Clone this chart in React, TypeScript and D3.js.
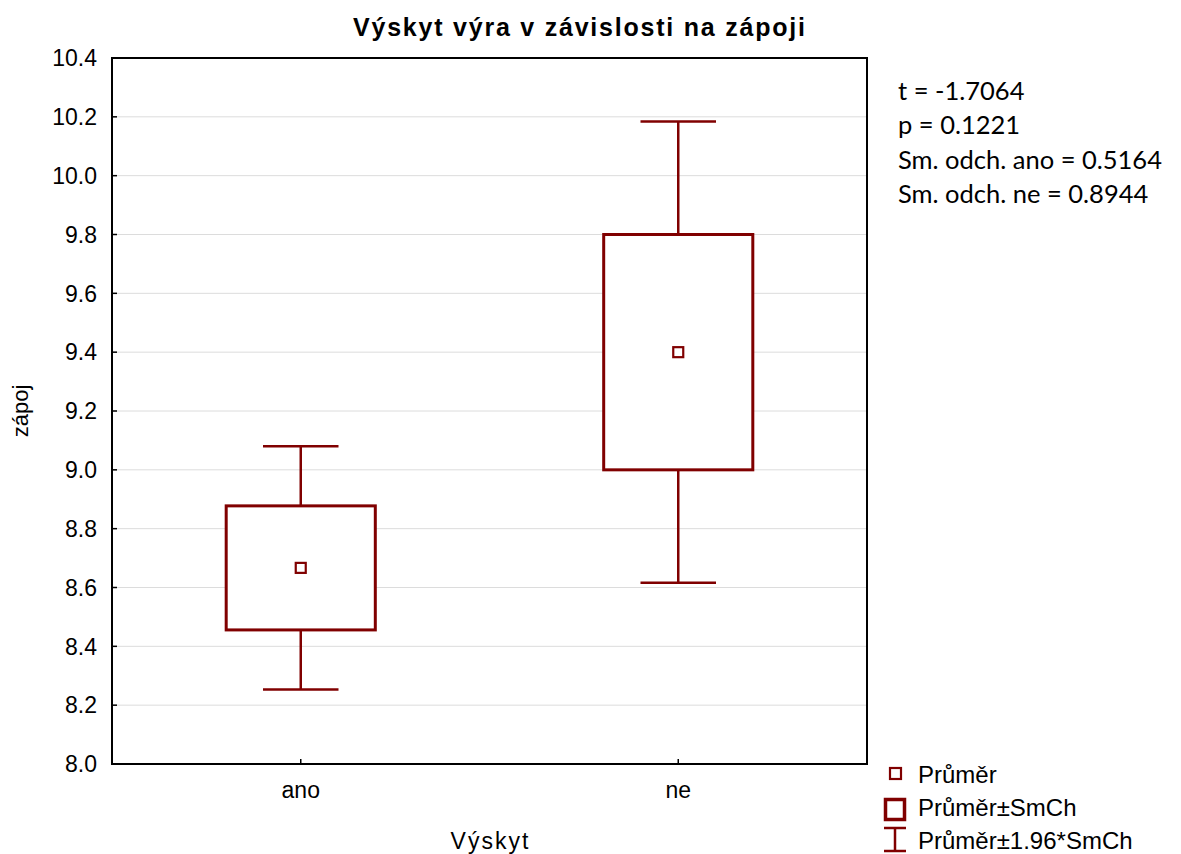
import React from "react";
import * as d3 from "d3";

const categories = ["ano", "ne"];
const means = [8.6667, 9.4];
const boxLow = [8.4558, 9.0];
const boxHigh = [8.8775, 9.8];
const whiskerLow = [8.2535, 8.616];
const whiskerHigh = [9.0799, 10.184];
const yTicks = [8.0, 8.2, 8.4, 8.6, 8.8, 9.0, 9.2, 9.4, 9.6, 9.8, 10.0, 10.2, 10.4];
const statsLines = ["t = -1.7064", "p = 0.1221", "Sm. odch. ano = 0.5164", "Sm. odch. ne = 0.8944"];
const legendItems = ["Průměr", "Průměr±SmCh", "Průměr±1.96*SmCh"];

const W = 1181;
const H = 854;
const L = 112, R = 867, T = 58, B = 764;
const RED = "#800000";
const ARIAL = "'Liberation Sans', Arial, sans-serif";

export default function App() {
  const x = d3.scaleBand<string>().domain(categories).range([L, R]).padding(0);
  const y = d3.scaleLinear().domain([8.0, 10.4]).range([B, T]);
  const bw = x.bandwidth();
  const boxW = bw * 0.395;
  const capW = bw * 0.2;

  return (
    <svg width={W} height={H} style={{ position: "absolute", left: 0, top: 0, background: "#fff" }}>
      <rect x={0} y={0} width={W} height={H} fill="#fff" />
      {/* grid */}
      {yTicks.slice(1, -1).map((t) => (
        <line key={"g" + t} x1={L} x2={R} y1={y(t)} y2={y(t)} stroke="#dcdcdc" strokeWidth={1} />
      ))}
      {/* boxes */}
      {categories.map((c, i) => {
        const cx = (x(c) as number) + bw / 2;
        return (
          <g key={c}>
            <line x1={cx} x2={cx} y1={y(whiskerHigh[i])} y2={y(boxHigh[i])} stroke={RED} strokeWidth={2.5} />
            <line x1={cx} x2={cx} y1={y(boxLow[i])} y2={y(whiskerLow[i])} stroke={RED} strokeWidth={2.5} />
            <line x1={cx - capW / 2} x2={cx + capW / 2} y1={y(whiskerHigh[i])} y2={y(whiskerHigh[i])} stroke={RED} strokeWidth={2.5} />
            <line x1={cx - capW / 2} x2={cx + capW / 2} y1={y(whiskerLow[i])} y2={y(whiskerLow[i])} stroke={RED} strokeWidth={2.5} />
            <rect x={cx - boxW / 2} y={y(boxHigh[i])} width={boxW} height={y(boxLow[i]) - y(boxHigh[i])} fill="#fff" stroke={RED} strokeWidth={3} />
            <rect x={cx - 5} y={y(means[i]) - 5} width={10} height={10} fill="#fff" stroke={RED} strokeWidth={2.2} />
          </g>
        );
      })}
      {/* frame */}
      <rect x={L} y={T} width={R - L} height={B - T} fill="none" stroke="#000" strokeWidth={2} />
      {/* y ticks */}
      {yTicks.map((t) => (
        <g key={"t" + t}>
          <line x1={L} x2={L + 5} y1={y(t)} y2={y(t)} stroke="#000" strokeWidth={1.5} />
          <text x={97} y={y(t)} dy="0.36em" textAnchor="end" fontFamily={ARIAL} fontSize={23} fill="#000">
            {t.toFixed(1)}
          </text>
        </g>
      ))}
      {/* x ticks */}
      {categories.map((c) => {
        const cx = (x(c) as number) + bw / 2;
        return (
          <g key={"x" + c}>
            <line x1={cx} x2={cx} y1={B} y2={B - 5} stroke="#000" strokeWidth={1.5} />
            <text x={cx} y={798} textAnchor="middle" fontFamily={ARIAL} fontSize={23} fill="#000">
              {c}
            </text>
          </g>
        );
      })}
      {/* axis titles */}
      <text x={(L + R) / 2} y={849} textAnchor="middle" fontFamily={ARIAL} fontSize={23} fill="#000" textLength={78} lengthAdjust="spacing">
        Výskyt
      </text>
      <text transform={`translate(28,${(T + B) / 2}) rotate(-90)`} textAnchor="middle" fontFamily={ARIAL} fontSize={22} fill="#000">
        zápoj
      </text>
      {/* title */}
      <text x={579} y={36} textAnchor="middle" fontFamily={ARIAL} fontSize={25} fontWeight="bold" fill="#000" textLength={452} lengthAdjust="spacing">
        Výskyt výra v závislosti na zápoji
      </text>
      {/* stats */}
      {statsLines.map((s, i) => (
        <text key={s} x={898} y={100 + i * 34.4} fontFamily="Lato, 'Noto Sans', sans-serif" fontSize={25.5} fill="#000">
          {s}
        </text>
      ))}
      {/* legend */}
      <rect x={890} y={768} width={11} height={11} fill="#fff" stroke={RED} strokeWidth={2.2} />
      <rect x={885.5} y={799.5} width={19} height={20} fill="#fff" stroke={RED} strokeWidth={3.5} />
      <line x1={884} x2={906} y1={828} y2={828} stroke={RED} strokeWidth={2.5} />
      <line x1={884} x2={906} y1={851} y2={851} stroke={RED} strokeWidth={2.5} />
      <line x1={895} x2={895} y1={828} y2={851} stroke={RED} strokeWidth={2.5} />
      {legendItems.map((s, i) => (
        <text key={s} x={918} y={783 + i * 33} fontFamily={ARIAL} fontSize={24} fill="#000">
          {s}
        </text>
      ))}
    </svg>
  );
}
